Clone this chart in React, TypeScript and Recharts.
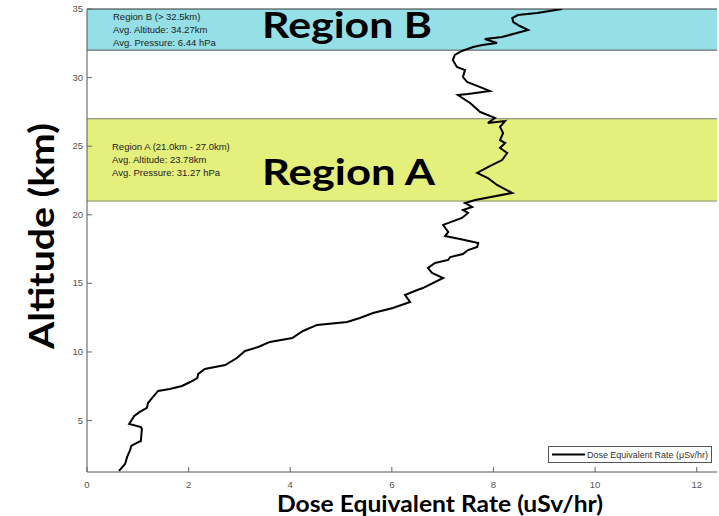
import React from 'react';
import { LineChart, Line, XAxis, YAxis, ReferenceArea, ReferenceLine } from 'recharts';

// dose equivalent rate (uSv/hr) vs altitude (km), balloon ascent
const doseRate = [
  0.63, 0.75, 0.79, 0.85, 0.87, 0.98, 1.06, 1.08, 1.06, 0.83,
  0.93, 1.04, 1.18, 1.2, 1.3, 1.4, 1.63, 1.87, 2.03, 2.17,
  2.19, 2.32, 2.72, 2.95, 3.11, 3.37, 3.6, 4.04, 4.25, 4.53,
  5.12, 5.37, 5.63, 6.02, 6.36, 6.26, 6.5, 6.61, 7.01, 6.79,
  6.71, 6.85, 7.11, 7.15, 7.4, 7.5, 7.68, 7.7, 7.34, 7.05,
  7.11, 7.01, 7.38, 7.5, 7.4, 7.58, 7.44, 7.64, 8.37, 8.07,
  7.89, 7.68, 7.89, 8.17, 8.27, 8.13, 8.23, 8.13, 8.19, 8.13,
  8.23, 7.89, 8.03, 7.74, 7.54, 7.3, 7.5, 7.93, 7.74, 7.48,
  7.4, 7.44, 7.28, 7.2, 7.24, 7.38, 7.6, 7.78, 8.07, 7.83,
  8.17, 8.68, 8.52, 8.39, 8.37, 8.48, 8.86, 9.35,
];
const altitude = [
  1.33, 1.84, 2.35, 2.86, 3.15, 3.37, 3.51, 4.39, 4.53, 4.75,
  5.34, 5.63, 5.92, 6.28, 6.72, 7.16, 7.3, 7.52, 7.81, 8.1,
  8.4, 8.76, 9.05, 9.56, 10.07, 10.36, 10.73, 11.02, 11.53, 11.97,
  12.19, 12.48, 12.84, 13.21, 13.64, 14.15, 14.52, 14.66, 15.39, 15.76,
  16.12, 16.49, 16.71, 16.92, 17.14, 17.43, 17.65, 17.94, 18.24, 18.45,
  18.75, 19.26, 19.77, 20.13, 20.35, 20.57, 20.86, 21.08, 21.59, 22.17,
  22.68, 23.05, 23.48, 23.99, 24.5, 24.87, 25.23, 25.45, 25.96, 26.4,
  26.84, 26.69, 27.06, 27.49, 28.15, 28.73, 28.8, 29.02, 29.31, 29.68,
  30.04, 30.55, 30.77, 31.28, 31.65, 31.94, 32.23, 32.38, 32.52, 32.81,
  32.96, 33.47, 33.76, 34.05, 34.34, 34.56, 34.71, 35.0,
];

const xTicks = [0, 2, 4, 6, 8, 10, 12];
const yTicks = [5, 10, 15, 20, 25, 30, 35];

const regionA = [21, 27];
const regionB = [32, 35];
const regionANotes = ['Region A (21.0km - 27.0km)', 'Avg. Altitude: 23.78km', 'Avg. Pressure: 31.27 hPa'];
const regionBNotes = ['Region B (> 32.5km)', 'Avg. Altitude: 34.27km', 'Avg. Pressure: 6.44 hPa'];

const data = doseRate.map((d, i) => ({ dose: d, alt: altitude[i] }));

const tickFont = '"Liberation Sans", Arial, sans-serif';
const titleFont = 'Lato, "Open Sans", sans-serif';

// ticks point into the plot, matlab style
const XTick = (props: any) => {
  const { x, y, payload } = props;
  return (
    <g>
      <line x1={x} x2={x} y1={y} y2={y - 5} stroke="#666" />
      <text x={x} y={y + 16} textAnchor="middle" fontSize={9.5} fill="#555" fontFamily={tickFont}>
        {payload.value}
      </text>
    </g>
  );
};

const YTick = (props: any) => {
  const { x, y, payload } = props;
  return (
    <g>
      <line x1={x} x2={x + 5} y1={y} y2={y} stroke="#666" />
      <text x={x - 4} y={y + 3} textAnchor="end" fontSize={9.5} fill="#555" fontFamily={tickFont}>
        {payload.value}
      </text>
    </g>
  );
};

export default function App() {
  return (
    <div style={{ position: 'absolute', left: 0, top: 0, width: 719, height: 516, background: '#fff', overflow: 'hidden' }}>
      <LineChart width={719} height={516} data={data} margin={{ top: 9, right: 2, bottom: 0, left: 0 }}>
        <ReferenceArea y1={regionB[0]} y2={regionB[1]} fill="#95dfe6" fillOpacity={1} stroke="none" />
        <ReferenceArea y1={regionA[0]} y2={regionA[1]} fill="#e5ef7b" fillOpacity={1} stroke="none" />
        <ReferenceLine y={regionB[0]} stroke="#555" />
        <ReferenceLine y={regionB[1]} stroke="#333" />
        <ReferenceLine y={regionA[0]} stroke="#8a8c6a" />
        <ReferenceLine y={regionA[1]} stroke="#777" />
        <XAxis
          dataKey="dose"
          type="number"
          domain={[0, 12.4]}
          ticks={xTicks}
          allowDataOverflow
          height={44}
          tickSize={0}
          tickMargin={0}
          tickLine={false}
          axisLine={{ stroke: '#555' }}
          tick={<XTick />}
        />
        <YAxis
          type="number"
          domain={[1.25, 35]}
          ticks={yTicks}
          allowDataOverflow
          width={87}
          tickSize={0}
          tickMargin={0}
          tickLine={false}
          axisLine={{ stroke: '#555' }}
          tick={<YTick />}
        />
        <Line
          type="linear"
          dataKey="alt"
          stroke="#000"
          strokeWidth={2}
          dot={false}
          isAnimationActive={false}
        />
      </LineChart>

      <svg width={719} height={516} style={{ position: 'absolute', left: 0, top: 0, pointerEvents: 'none' }}>
        {regionBNotes.map((t, i) => (
          <text key={t} x={113} y={20 + i * 13} fontSize={9.5} fill="#222" fontFamily={tickFont}>{t}</text>
        ))}
        {regionANotes.map((t, i) => (
          <text key={t} x={112} y={150 + i * 13} fontSize={9.5} fill="#222" fontFamily={tickFont}>{t}</text>
        ))}
        <text x={262} y={38} fontSize={36} fontWeight="bold" fontFamily={titleFont} textLength={170} lengthAdjust="spacingAndGlyphs">
          Region B
        </text>
        <text x={262} y={185} fontSize={37} fontWeight="bold" fontFamily={titleFont} textLength={173} lengthAdjust="spacingAndGlyphs">
          Region A
        </text>
        <text
          transform="translate(54,236) rotate(-90)"
          textAnchor="middle"
          fontSize={35}
          fontWeight="bold"
          fontFamily={titleFont}
          textLength={226}
          lengthAdjust="spacingAndGlyphs"
        >
          Altitude (km)
        </text>
        <text x={277} y={512} fontSize={23} fontWeight="bold" fontFamily={titleFont} textLength={326} lengthAdjust="spacingAndGlyphs">
          Dose Equivalent Rate (uSv/hr)
        </text>

        <rect x={548.5} y={446.5} width={163} height={16} fill="#fff" stroke="#555" />
        <line x1={552} x2={585} y1={454.5} y2={454.5} stroke="#000" strokeWidth={2} />
        <text x={587} y={457.5} fontSize={9} fill="#333" fontFamily={tickFont} textLength={121} lengthAdjust="spacingAndGlyphs">
          Dose Equivalent Rate (μSv/hr)
        </text>
      </svg>
    </div>
  );
}
